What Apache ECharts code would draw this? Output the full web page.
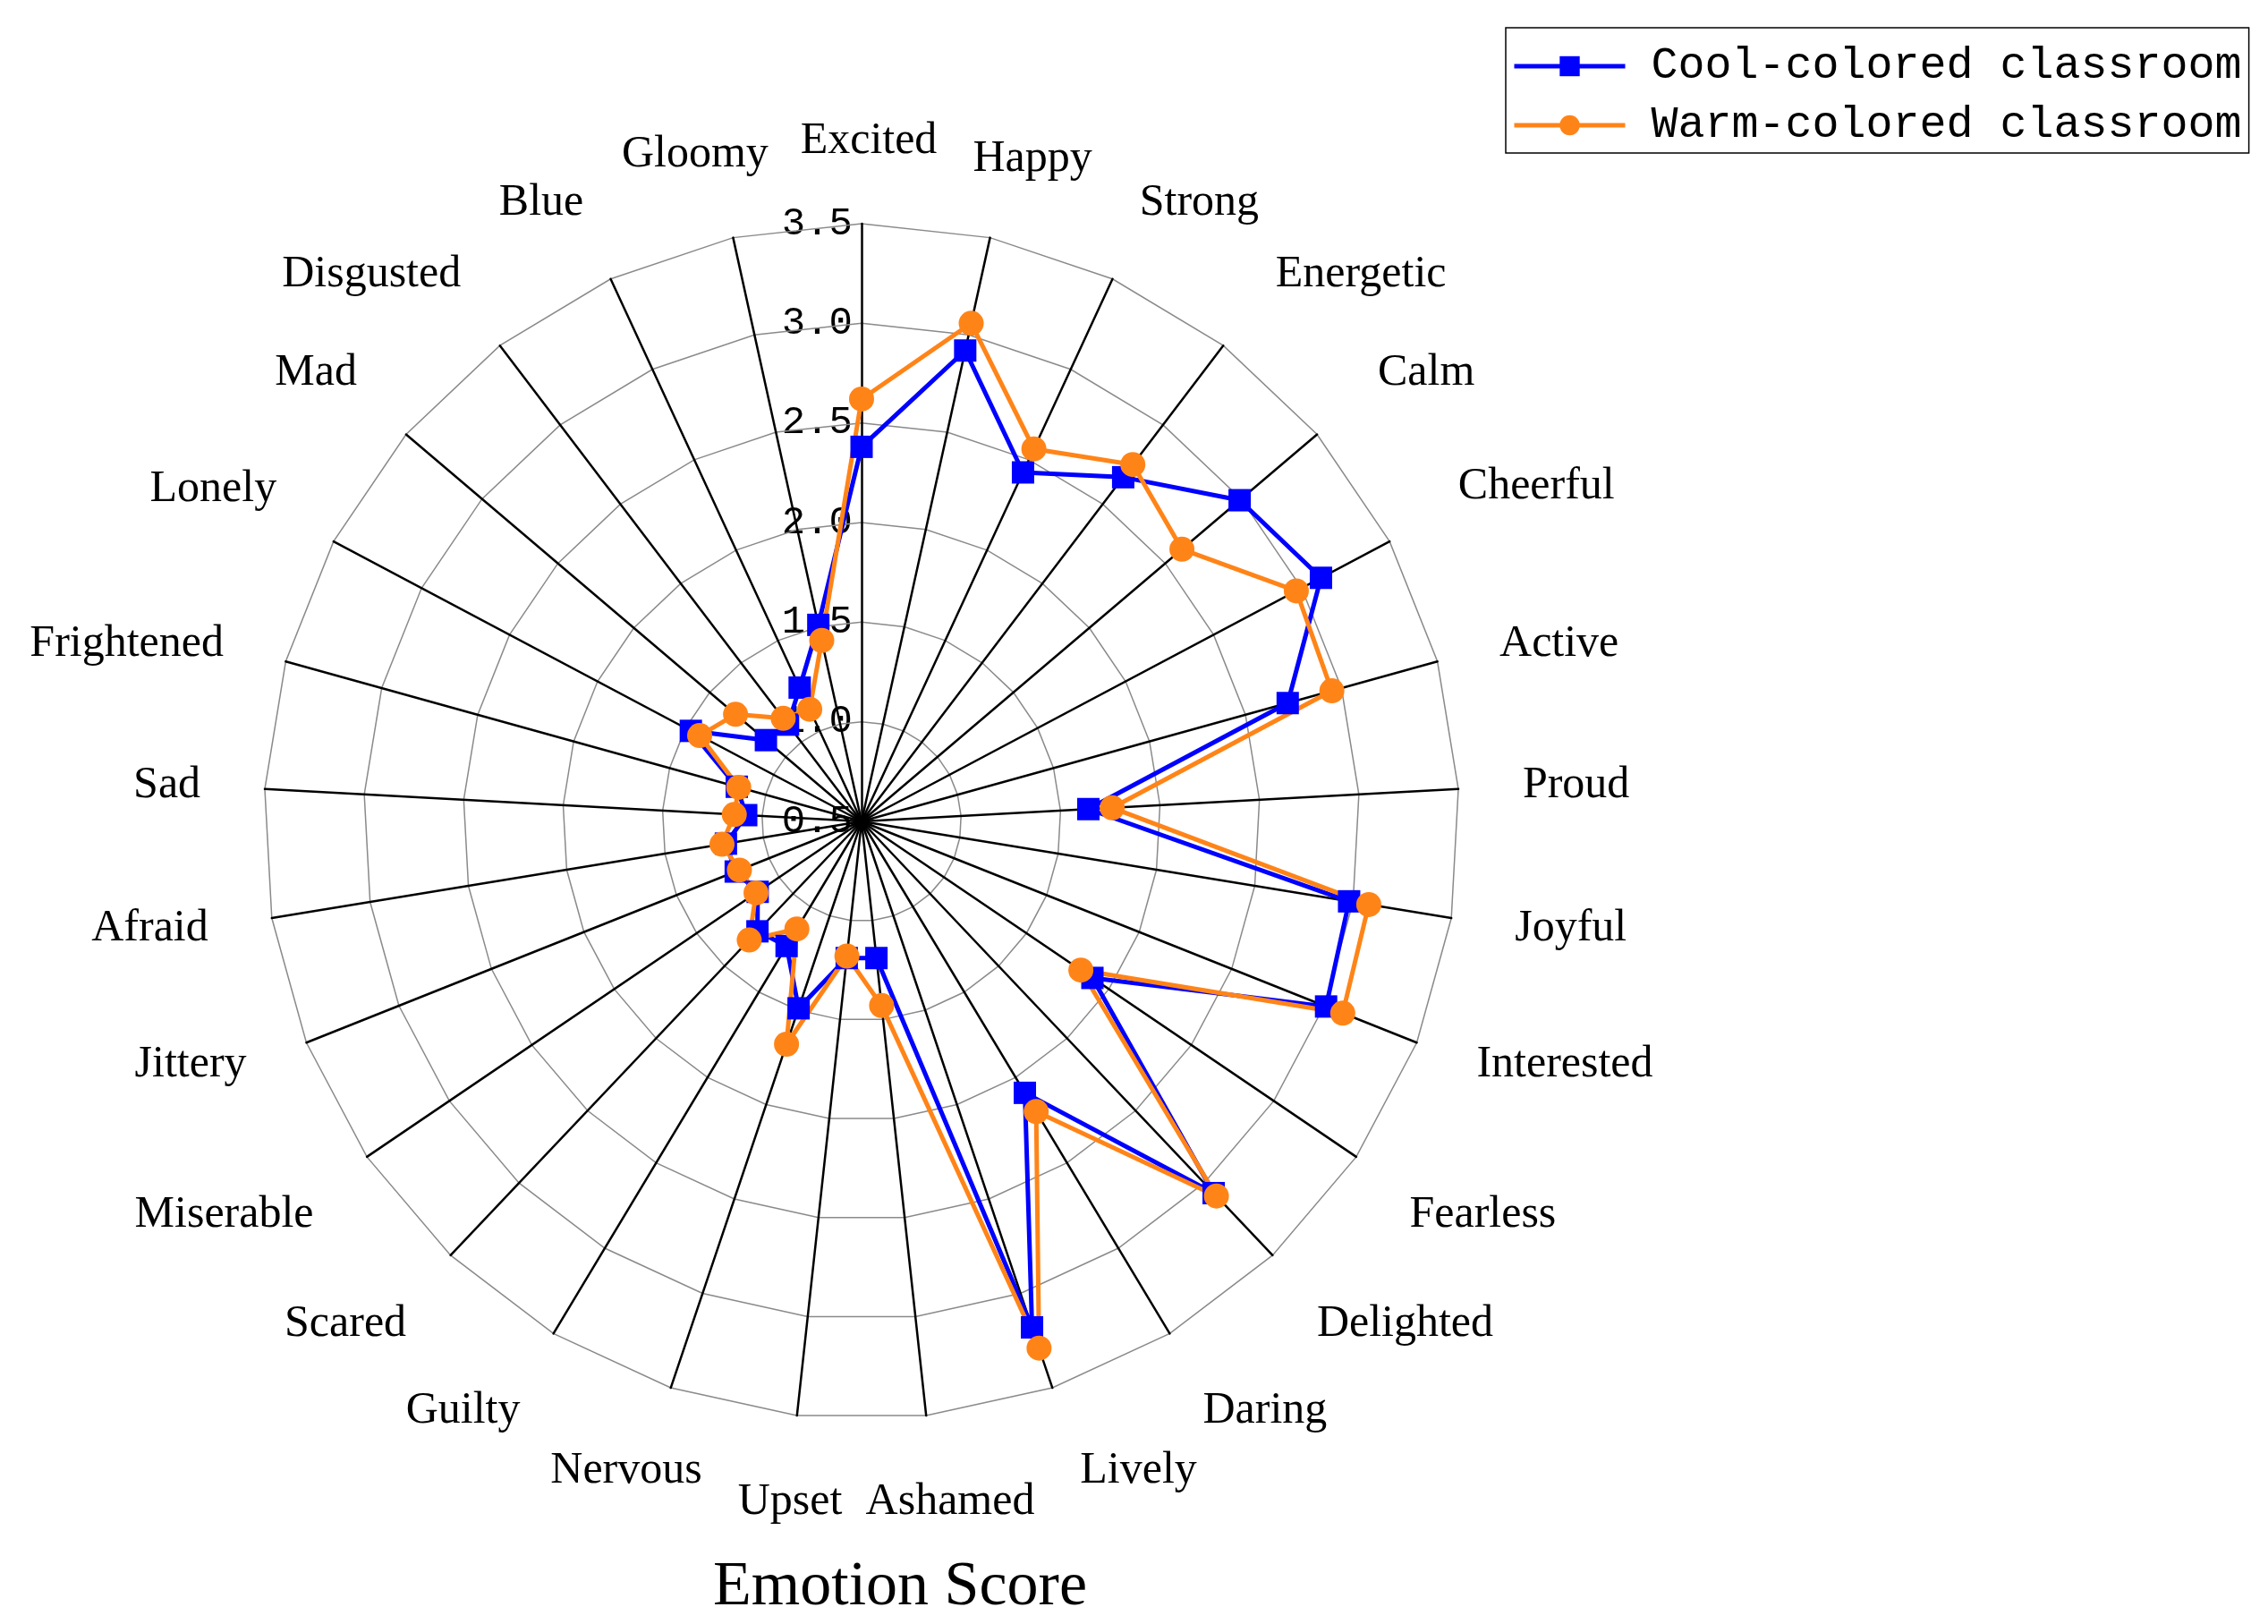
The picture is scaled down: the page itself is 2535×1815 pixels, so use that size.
<!DOCTYPE html>
<html>
<head>
<meta charset="utf-8">
<script src="https://cdn.jsdelivr.net/npm/echarts@6/dist/echarts.min.js"></script>
<style>
  html, body { margin: 0; padding: 0; background: #fff; }
  #chart { width: 2535px; height: 1815px; }
</style>
</head>
<body>
<div id="chart"></div>
<script>
// Emotions, clockwise from the top
const indicators = ['Excited','Happy','Strong','Energetic','Calm','Cheerful','Active','Proud','Joyful','Interested',
  'Fearless','Delighted','Daring','Lively','Ashamed','Upset','Nervous','Guilty','Scared','Miserable',
  'Jittery','Afraid','Sad','Frightened','Lonely','Mad','Disgusted','Blue','Gloomy'];

const coolValues = [2.38, 2.92, 2.43, 2.67, 2.99, 3.11, 2.72, 1.64, 2.98, 3.01,
  1.90, 3.07, 2.09, 3.18, 1.19, 1.19, 1.49, 1.23, 1.26, 1.13,
  1.18, 1.19, 1.08, 1.15, 1.47, 1.13, 1.11, 1.24, 1.51];

const warmValues = [2.62, 3.06, 2.56, 2.75, 2.61, 2.97, 2.95, 1.76, 3.08, 3.10,
  1.83, 3.09, 2.20, 3.29, 1.43, 1.18, 1.68, 1.13, 1.32, 1.14,
  1.16, 1.21, 1.14, 1.14, 1.42, 1.33, 1.15, 1.12, 1.43];

const seriesNames = ['Cool-colored classroom', 'Warm-colored classroom'];
const scaleMin = 0.5, scaleMax = 3.5, scaleStep = 0.5;

// small label placement nudges [dx, dy] in px (styling only)
const labelNudge = {
  Excited: [8, 5], Happy: [32, 8], Strong: [0, 5], Energetic: [15, 3], Calm: [13, 3], Cheerful: [13, -3],
  Interested: [0, -27], Lively: [8, 0], Ashamed: [19, 0], Nervous: [58, 0], Jittery: [0, -27],
  Frightened: [0, 8], Blue: [0, 5], Gloomy: [-27, 3], Disgusted: [0, 3], Mad: [0, 3]
};

// ECharts radar runs counter-clockwise; reorder so the drawing runs clockwise
const n = indicators.length;
const order = indicators.map((_, i) => (i === 0 ? 0 : n - i));

const CX = 963, CY = 918, R = 668;
const BLUE = '#0000FF', ORANGE = '#FF8418';

const angleData = indicators.map(name => {
  const d = labelNudge[name];
  if (!d) return name;
  const [dx, dy] = d;
  return { value: name, textStyle: { padding: [dy, -dx, -dy, dx] } };
});

const chart = echarts.init(document.getElementById('chart'), null, { renderer: 'canvas' });
chart.setOption({
  backgroundColor: '#fff',
  animation: false,
  title: {
    text: 'Emotion Score', left: 1001, top: 1735, textAlign: 'center',
    textStyle: { fontFamily: 'Liberation Serif', fontSize: 70, fontWeight: 'normal', color: '#000' }
  },
  legend: {
    data: seriesNames,
    orient: 'vertical', left: 1683, top: 31,
    padding: [18, 8, 6, 7], itemGap: 16, itemWidth: 124, itemHeight: 28,
    borderColor: '#000', borderWidth: 1.5,
    selectedMode: false,
    lineStyle: { width: 5 },
    textStyle: { fontFamily: 'Liberation Mono', fontSize: 50, color: '#000', lineHeight: 50, padding: [0, 0, 0, 24] }
  },
  radar: {
    center: [CX, CY], radius: R, startAngle: 90, splitNumber: 6, shape: 'polygon', z: 1,
    indicator: order.map(i => ({ name: indicators[i], min: scaleMin, max: scaleMax })),
    axisName: { show: false },
    axisLine: { lineStyle: { color: '#000', width: 2.5 } },
    splitLine: { lineStyle: { color: '#8a8a8a', width: 1.5 } },
    splitArea: { show: false },
    axisTick: { show: false },
    axisLabel: { show: false }
  },
  polar: { center: [CX, CY], radius: [0, R] },
  angleAxis: {
    type: 'category', data: angleData, startAngle: 90, clockwise: true, boundaryGap: false,
    axisLine: { show: false }, axisTick: { show: false }, splitLine: { show: false },
    axisLabel: { interval: 0, margin: 72, fontFamily: 'Liberation Serif', fontSize: 50, color: '#000' },
    z: 0
  },
  radiusAxis: {
    min: scaleMin, max: scaleMax, interval: scaleStep,
    axisLine: { show: false }, axisTick: { show: false }, splitLine: { show: false },
    axisLabel: { formatter: v => v.toFixed(1), fontFamily: 'Liberation Mono', fontSize: 44, color: '#000', margin: 10 },
    z: 0
  },
  series: [
    {
      type: 'radar', z: 3,
      data: [
        { name: seriesNames[0], value: order.map(i => coolValues[i]), symbol: 'rect', symbolSize: 25,
          itemStyle: { color: BLUE }, lineStyle: { color: BLUE, width: 5 } },
        { name: seriesNames[1], value: order.map(i => warmValues[i]), symbol: 'circle', symbolSize: 28,
          itemStyle: { color: ORANGE }, lineStyle: { color: ORANGE, width: 5 } }
      ]
    },
    // legend-only entries (no data) so the legend shows line + marker icons
    { type: 'line', coordinateSystem: 'polar', name: seriesNames[0], data: [], symbol: 'rect', symbolSize: 25,
      itemStyle: { color: BLUE }, lineStyle: { color: BLUE, width: 5 } },
    { type: 'line', coordinateSystem: 'polar', name: seriesNames[1], data: [], symbol: 'circle', symbolSize: 28,
      itemStyle: { color: ORANGE }, lineStyle: { color: ORANGE, width: 5 } }
  ]
});
</script>
</body>
</html>
